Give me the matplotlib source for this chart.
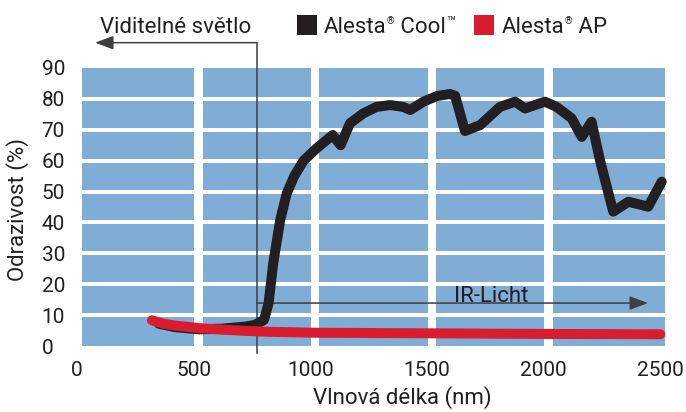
import matplotlib
matplotlib.use("Agg")
import matplotlib.pyplot as plt
from matplotlib.patches import Rectangle
from matplotlib.transforms import ScaledTranslation

plt.rcParams['font.family'] = ['Roboto', 'DejaVu Sans']

# ---- data ----
x_ticks = [0, 500, 1000, 1500, 2000, 2500]
y_ticks = [0, 10, 20, 30, 40, 50, 60, 70, 80, 90]

cool_nm = [330, 400, 500, 600, 700, 740, 780, 800, 820, 850, 878, 910, 950,
           1006, 1075, 1109, 1149, 1206, 1263, 1321, 1378, 1407, 1464, 1521,
           1578, 1600, 1642, 1707, 1792, 1857, 1900, 1985, 2035, 2100, 2143,
           2185, 2221, 2250, 2278, 2343, 2428, 2486]
cool_val = [7.2, 6.1, 5.4, 5.6, 6.3, 6.8, 8.4, 13.8, 26.8, 40.8, 49.4, 55.0, 60.0,
            64.0, 68.3, 65.0, 72.1, 75.3, 77.4, 78.0, 77.4, 76.4, 79.1, 80.9,
            81.6, 81.0, 69.6, 71.5, 77.4, 79.1, 76.9, 79.1, 77.4, 73.7, 67.7,
            72.6, 60.2, 51.6, 43.5, 46.7, 45.1, 53.2]

ap_nm = [300, 350, 400, 500, 600, 700, 800, 1000, 1500, 2000, 2480]
ap_val = [8.3, 7.2, 6.6, 5.8, 5.3, 4.9, 4.6, 4.3, 4.1, 3.9, 3.8]

visible_limit = 750
ir_arrow_end = 2427

ink = '#231f20'
blue = '#80add6'
red = '#da1c2f'
guide = '#3f3f3f'

fig = plt.figure(figsize=(6.86, 4.12), dpi=100)
ax = fig.add_axes([82/686, 66/412, 583/686, 278/412])
ax.set_xlim(0, 2500)
ax.set_ylim(0, 90)
for s in ax.spines.values():
    s.set_visible(False)

# blue background cells
gx = 18
gy = 0.65
for i in range(len(x_ticks) - 1):
    x0 = x_ticks[i] + (gx if i > 0 else 0)
    x1 = x_ticks[i + 1] - (gx if i < len(x_ticks) - 2 else 0)
    for j in range(len(y_ticks) - 1):
        y0 = y_ticks[j] + (gy if j > 0 else 0)
        y1 = y_ticks[j + 1] - (gy if j < len(y_ticks) - 2 else 0)
        ax.add_patch(Rectangle((x0, y0), x1 - x0, y1 - y0, facecolor=blue,
                               edgecolor='none', zorder=0))

# curves
ax.plot(cool_nm, cool_val, color=ink, lw=7.2, solid_capstyle='round',
        solid_joinstyle='round', zorder=3, clip_on=False)
ax.plot(ap_nm, ap_val, color=red, lw=7.2, solid_capstyle='round',
        solid_joinstyle='round', zorder=4, clip_on=False)

# guides
ax.plot([visible_limit, visible_limit], [-2.3, 98.2], color=guide, lw=1.1,
        zorder=2, clip_on=False)
ax.annotate('', xy=(56, 98.2), xytext=(visible_limit, 98.2),
            arrowprops=dict(arrowstyle='-|>,head_length=0.8,head_width=0.3',
                            color=guide, lw=1.1, mutation_scale=14,
                            shrinkA=0, shrinkB=0),
            annotation_clip=False, zorder=5)
ax.annotate('', xy=(ir_arrow_end, 13.9), xytext=(visible_limit, 13.9),
            arrowprops=dict(arrowstyle='-|>,head_length=0.8,head_width=0.3',
                            color=guide, lw=1.1, mutation_scale=14,
                            shrinkA=0, shrinkB=0),
            annotation_clip=False, zorder=2)
ax.text(1754, 14.4, 'IR-Licht', ha='center', va='baseline', fontsize=16,
        color=ink, zorder=5)

# ticks
ax.set_xticks(x_ticks)
ax.set_yticks(y_ticks)
ax.tick_params(axis='both', length=0, labelsize=15, colors=ink)
ax.tick_params(axis='x', pad=11)
ax.tick_params(axis='y', pad=29)
for lab in ax.get_yticklabels():
    lab.set_ha('left')
shift = ScaledTranslation(-5/100, 0, fig.dpi_scale_trans)
for lab in ax.get_xticklabels():
    lab.set_transform(lab.get_transform() + shift)

ax.set_xlabel('Vlnová délka (nm)', fontsize=16, color=ink)
ax.xaxis.set_label_coords(0.55, -0.185)
ax.xaxis.label.set_va('center')
ax.set_ylabel('Odrazivost (%)', fontsize=16, color=ink)
ax.yaxis.set_label_coords(-0.11, 0.49)
ax.yaxis.label.set_va('center')

# top labels / legend
H = 412.0
W = 686.0
base = (H - 33)/H
fig.text(100/W, base, 'Viditelné světlo', fontsize=16, color=ink,
         ha='left', va='baseline')
fig.patches.append(Rectangle((297/W, (H - 35)/H), 20/W, 20/H, facecolor=ink,
                             edgecolor='none', transform=fig.transFigure,
                             figure=fig))
fig.patches.append(Rectangle((474/W, (H - 35)/H), 20/W, 20/H, facecolor=red,
                             edgecolor='none', transform=fig.transFigure,
                             figure=fig))

renderer = fig.canvas.get_renderer()


def put_pieces(x_px, pieces):
    x = x_px
    for txt, size, rise, gap in pieces:
        t = fig.text(x/W, base + rise/H, txt, fontsize=size, color=ink,
                     ha='left', va='baseline')
        bb = t.get_window_extent(renderer)
        x = bb.x1 + gap


put_pieces(324, [('Alesta', 16, 0, 0), ('®', 7, 9, 1), (' Cool', 16, 0, 0),
                 ('™', 11, 6, 0)])
put_pieces(502, [('Alesta', 16, 0, 0), ('®', 7, 9, 1), (' AP', 16, 0, 0)])

fig.savefig('out.png', dpi=100, facecolor='white')
